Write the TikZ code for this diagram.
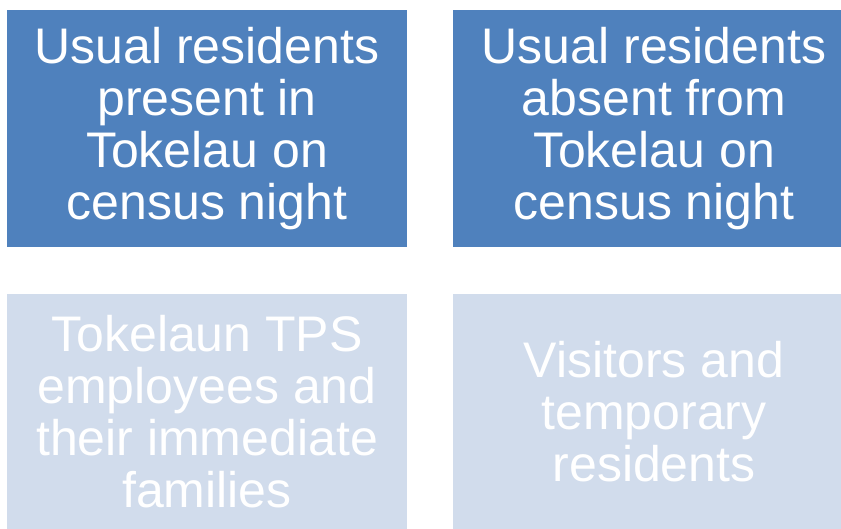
\documentclass[tikz,border=0pt]{standalone}
\usepackage{fontspec}
\setmainfont{Liberation Sans}
\definecolor{boxdark}{HTML}{4F81BD}
\definecolor{boxlight}{HTML}{D1DCEC}
\begin{document}
\begin{tikzpicture}[x=1pt,y=-1pt,
  cell/.style={inner sep=0pt, text=white, align=center,
    font=\fontsize{50}{52}\selectfont}]
\useasboundingbox (0,0) rectangle (841,529);
% coloured panels
\fill[boxdark]  (7,10)   rectangle (407,247);
\fill[boxdark]  (453,10) rectangle (841,247);
\fill[boxlight] (7,294)  rectangle (407,529);
\fill[boxlight] (453,294) rectangle (841,529);
% panel texts
\node[cell] (present) at (207,128.5) {Usual residents\\present in\\Tokelau on\\census night};
\node[cell] (absent) at (654,128.5) {Usual residents\\absent from\\Tokelau on\\census night};
\node[cell] (tps) at (207,411.5) {Tokelaun TPS\\employees and\\their immediate\\families};
\node[cell] (visitors) at (654,411.5) {Visitors and\\temporary\\residents};
\end{tikzpicture}
\end{document}
